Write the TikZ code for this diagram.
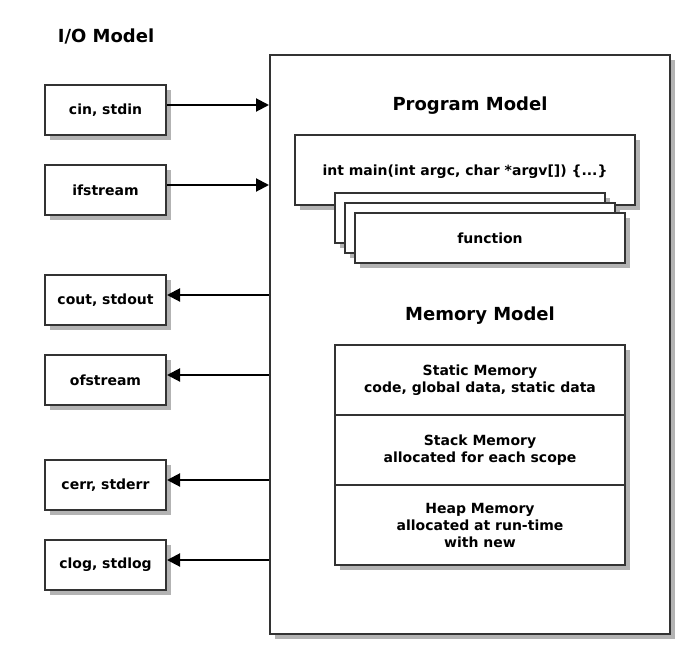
\documentclass[tikz,border=0pt]{standalone}
\usepackage{fontspec}
\setmainfont{DejaVu Sans}
\usetikzlibrary{positioning,arrows.meta,shadows,calc}
\definecolor{linegray}{HTML}{333333}
\definecolor{shadegray}{HTML}{B3B3B3}
\tikzset{
  flowarrow/.style={-{Triangle[length=13pt, width=13pt]}, line width=2pt, black},
  iobox/.style={draw=linegray, line width=2pt, fill=white, minimum width=121pt, minimum height=50pt, align=center, font=\labelfont,
    drop shadow={shadow xshift=5pt, shadow yshift=-5pt, fill=shadegray, opacity=1}},
  fnbox/.style={draw=linegray, line width=2pt, fill=white, minimum width=270pt, minimum height=50pt, align=center, font=\labelfont,
    drop shadow={shadow xshift=5pt, shadow yshift=-5pt, fill=shadegray, opacity=1}},
  memcell/.style={draw=linegray, line width=2pt, fill=white, minimum width=290pt, minimum height=70pt, outer sep=0pt, align=center, font=\labelfont,
    drop shadow={shadow xshift=5pt, shadow yshift=-5pt, fill=shadegray, opacity=1}},
  heading/.style={font=\headfont}
}
\newcommand{\labelfont}{\bfseries\fontsize{14}{17}\selectfont}
\newcommand{\headfont}{\bfseries\fontsize{18}{21}\selectfont}

\begin{document}
\begin{tikzpicture}[x=1pt, y=-1pt]
  \useasboundingbox (0,0) rectangle (690,653);
  % outer program box
  \node[draw=linegray, line width=2pt, fill=white, minimum width=400pt, minimum height=579pt,
    drop shadow={shadow xshift=5pt, shadow yshift=-5pt, fill=shadegray, opacity=1}] (prog) at (470,344.5) {};
  \node[heading] (iotitle) at (106,36) {I/O Model};
  \node[heading] (progtitle) at (470,106) {Program Model};
  \node[heading] (memtitle) at (480,316) {Memory Model};
  % streams
  \node[iobox] (cin) at (105.5,110) {cin, stdin};
  \node[iobox] (ifs) at (105.5,190) {ifstream};
  \node[iobox] (cout) at (105.5,300) {cout, stdout};
  \node[iobox] (ofs) at (105.5,380) {ofstream};
  \node[iobox] (cerr) at (105.5,485) {cerr, stderr};
  \node[iobox] (clog) at (105.5,565) {clog, stdlog};
  \foreach \src in {cin,ifs}
    \draw[flowarrow] ([yshift=5pt]\src.east) -- ([yshift=5pt]\src.east -| prog.west);
  \foreach \dst in {cout,ofs,cerr,clog}
    \draw[flowarrow] ([yshift=5pt]\dst.east -| prog.west) -- ([yshift=5pt]\dst.east);
  % main and functions
  \node[fnbox, minimum width=340pt, minimum height=70pt, text depth=-10pt] (mainfn) at (465,170) {int main(int argc, char *argv[]) \{...\}};
  \node[fnbox] (fn3) at (470,218) {};
  \node[fnbox] (fn2) at (480,228) {};
  \node[fnbox] (fn1) at (490,238) {function};
  % memory
  \node[memcell] (static) at (480,380) {Static Memory\\code, global data, static data};
  \node[memcell, below=0pt of static] (stack) {Stack Memory\\allocated for each scope};
  \node[memcell, below=0pt of stack, minimum height=80pt] (heap) {Heap Memory\\allocated at run-time\\with new};
\end{tikzpicture}
\end{document}
